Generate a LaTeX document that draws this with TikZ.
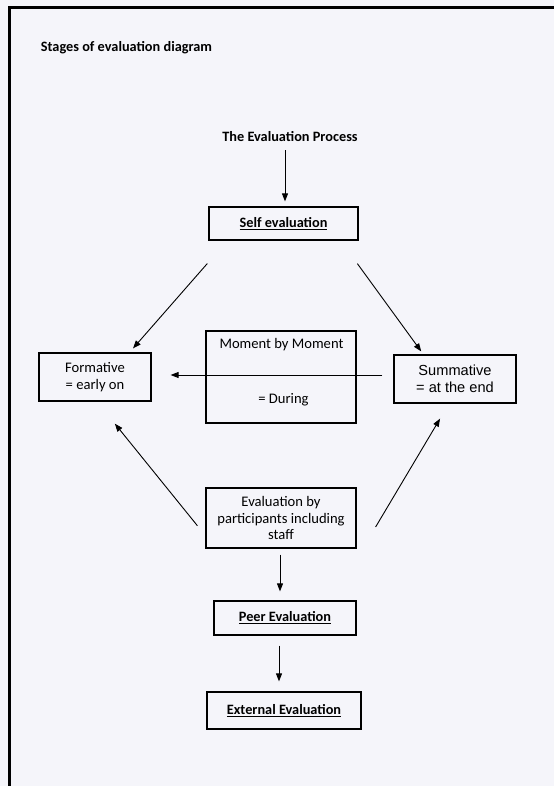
\documentclass[tikz,border=0pt]{standalone}
\usepackage{fontspec}
\setmainfont{Carlito}
\newfontfamily\arialfont{Liberation Sans}
\usetikzlibrary{arrows.meta}

\newlength{\du}
\setlength{\du}{1pt}

\tikzset{
  stagebox/.style={draw=black, line width=1.2pt, align=center, inner sep=0pt,
    font=\fontsize{14.6}{17}\selectfont},
  stagetext/.style={inner sep=0pt, font=\fontsize{14.6}{17}\selectfont},
  headtext/.style={inner sep=0pt, font=\fontsize{14.3}{17}\selectfont\bfseries},
  arr/.style={-{Triangle[length=8pt,width=6pt]}, line width=0.9pt},
}

\begin{document}
\begin{tikzpicture}
\pgftransformyscale{-1.000000}
\useasboundingbox (0\du,0\du) rectangle (554\du,786\du);
\definecolor{pagecolor}{rgb}{0.960000, 0.962000, 0.980000}
\fill[pagecolor] (0\du,0\du) rectangle (554\du,786\du);
% page frame
\draw[line width=2.5pt] (9.3\du,786\du) -- (9.3\du,7.5\du) -- (554\du,7.5\du);
% headings
\node[headtext, anchor=west] (title) at (40.7\du,48\du) {Stages of evaluation diagram};
\node[headtext] (process) at (290\du,137\du) {The Evaluation Process};
% boxes
\node[stagebox, minimum width=149pt, minimum height=33pt] (self) at (283.5\du,223.5\du) {\bfseries\fontsize{14.3}{17}\selectfont\underline{Self evaluation}};
\node[stagebox, minimum width=112pt, minimum height=48pt] (form) at (95\du,377\du) {Formative\\= early on};
\node[stagebox, minimum width=150pt, minimum height=92pt] (moment) at (281\du,377\du) {};
\node[stagetext] (momenttop) at (281.5\du,345\du) {Moment by Moment};
\node[stagetext] (momentbot) at (283.5\du,400\du) {= During};
\node[stagebox, minimum width=122pt, minimum height=48pt, font=\arialfont\fontsize{14.6}{17}\selectfont] (summ) at (455\du,379\du) {Summative\\= at the end};
\node[stagebox, minimum width=150pt, minimum height=60pt, font=\fontsize{14.6}{16.5}\selectfont] (partic) at (281\du,518\du) {Evaluation by\\participants including\\staff};
\node[stagebox, minimum width=142pt, minimum height=34pt] (peer) at (285\du,618\du) {\bfseries\fontsize{14.3}{17}\selectfont\underline{Peer Evaluation}};
\node[stagebox, minimum width=154pt, minimum height=37pt] (ext) at (284\du,710.5\du) {\bfseries\fontsize{14.3}{17}\selectfont\underline{External Evaluation}};
% connectors
\draw[arr, shorten <=8pt, shorten >=5pt] ([xshift=-5pt]process.south) -- ([xshift=-5pt]process.south |- self.north);
\draw[arr, shorten <=30.5pt, shorten >=5.3pt] ([xshift=19pt]self.south west) -- ([xshift=34.5pt]form.north);
\draw[arr, shorten <=28.5pt, shorten >=3.7pt] ([xshift=-18pt]self.south east) -- ([xshift=30pt]summ.north west);
\draw[arr, shorten <=11pt, shorten >=19pt] ([yshift=-4pt]summ.west) -- ([yshift=-4pt]summ.west -| form.east);
\draw[arr, shorten <=12.7pt, shorten >=28.4pt] ([yshift=-13pt]partic.south west) -- ([xshift=2pt]form.south);
\draw[arr, shorten >=17.5pt] ([xshift=19pt,yshift=9pt]partic.east) -- ([xshift=-6pt]summ.south);
\draw[arr, shorten <=6pt, shorten >=9pt] ([xshift=-1pt]partic.south) -- ([xshift=-1pt]partic.south |- peer.north);
\draw[arr, shorten <=10pt, shorten >=10pt] ([xshift=-6pt]peer.south) -- ([xshift=-6pt]peer.south |- ext.north);
\end{tikzpicture}
\end{document}
